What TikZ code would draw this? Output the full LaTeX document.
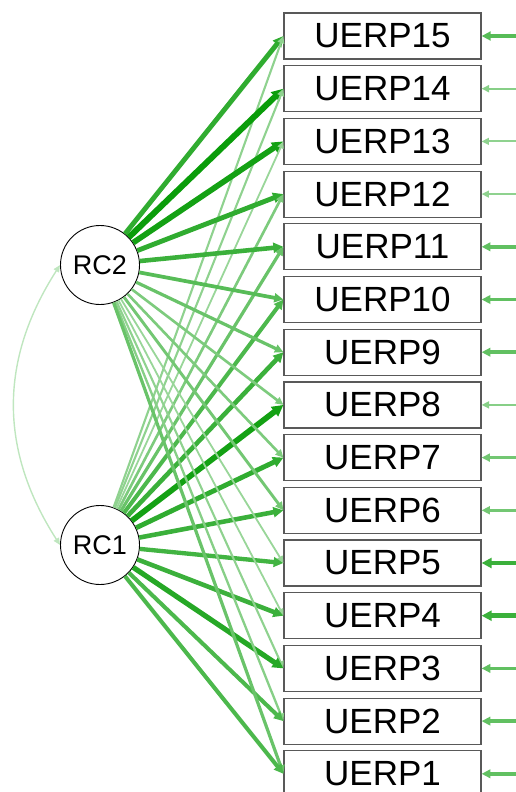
\documentclass[tikz,border=0pt]{standalone}
\usepackage{fontspec}
\setmainfont{Liberation Sans}
\usepackage{tikz}
\usetikzlibrary{arrows.meta}
\definecolor{posgreen}{RGB}{0,153,0}

\begin{document}
\begin{tikzpicture}[
    x=1pt, y=-1pt,
    item/.style={draw=black!65, line width=1.2pt, minimum width=197pt,
                 minimum height=46pt, inner sep=0pt,
                 font=\fontsize{35}{35}\selectfont},
    latent/.style={draw, circle, minimum size=79pt, inner sep=0pt,
                   line width=0.9pt, font=\fontsize{27}{27}\selectfont},
    load/.style={draw=posgreen!#1!white, line width={1.8+0.075*(#1-40)},
                 -{Triangle[length=5pt 1.1, width=4pt 1.3]}},
    cov/.style={draw=posgreen!25!white, line width=1.4pt,
                {Triangle[length=7pt, width=6pt]}-{Triangle[length=7pt, width=6pt]}}
]
  \useasboundingbox (0,0) rectangle (516,792);

  \node[latent] (rc2) at (100,265) {RC2};
  \node[latent] (rc1) at (100,545) {RC1};

  \foreach \i in {1,...,15} {
    \node[item] (u\i) at (382.5,{36+(15-\i)*52.7}) {UERP\i};
    \coordinate (r\i) at (530,{36+(15-\i)*52.7});
  }

  % item / RC2 / RC1 / residual
  \foreach \i/\a/\b/\e in {
      15/81/44/66, 14/96/44/47, 13/92/40/44, 12/81/51/44, 11/77/59/62,
      10/66/70/62, 9/59/77/62, 8/51/92/47, 7/51/81/55, 6/55/77/55,
      5/40/74/77, 4/40/77/77, 3/44/85/62, 2/47/70/62, 1/59/70/62} {
    \draw[load=\a] (rc2) -- (u\i.west);
    \draw[load=\b] (rc1) -- (u\i.west);
    \draw[load=\e] (r\i) -- (u\i.east);
  }

  \draw[cov] (rc2.west) .. controls (-1,360) and (-1,450) .. (rc1.west);
\end{tikzpicture}
\end{document}
